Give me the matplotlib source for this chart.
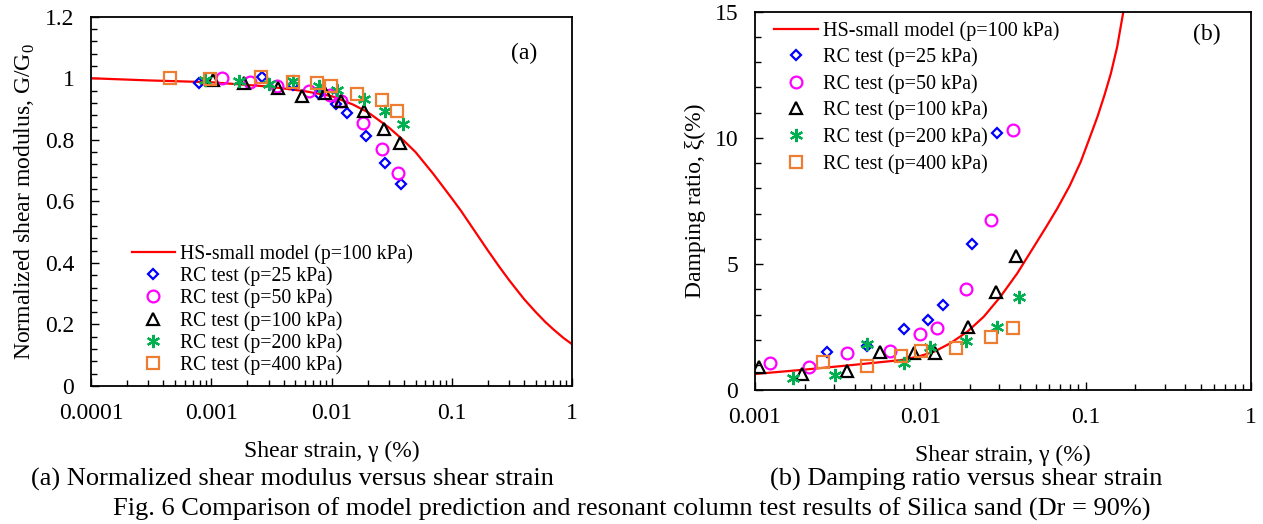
import matplotlib
matplotlib.use("Agg")
import matplotlib.pyplot as plt
from matplotlib.ticker import FuncFormatter, MultipleLocator, LogLocator, NullFormatter

plt.rcParams['font.family'] = ['Liberation Serif', 'DejaVu Serif']
plt.rcParams['mathtext.fontset'] = 'custom'
plt.rcParams['mathtext.rm'] = 'Liberation Serif'

# ---- (a) G/G0 data ----
gg_model_x = [0.0001, 0.0003, 0.001, 0.003, 0.006, 0.01, 0.015, 0.02, 0.03, 0.04,
              0.05, 0.07, 0.1, 0.12, 0.15, 0.2, 0.25, 0.3, 0.4, 0.5, 0.6, 0.7, 0.85, 1.0]
gg_model_y = [1.0, 0.993, 0.987, 0.973, 0.958, 0.942, 0.915, 0.89, 0.84, 0.797,
              0.76, 0.69, 0.61, 0.568, 0.512, 0.44, 0.386, 0.344, 0.282, 0.24, 0.208,
              0.184, 0.156, 0.136]

gg25_x = [0.00079, 0.00263, 0.0048, 0.0078, 0.011, 0.0135, 0.0193, 0.0278, 0.0375]
gg25_y = [0.983, 1.003, 0.978, 0.948, 0.916, 0.887, 0.813, 0.726, 0.658]
gg50_x = [0.00124, 0.0021, 0.0035, 0.0065, 0.0097, 0.0119, 0.0184, 0.0262, 0.0354]
gg50_y = [1.0, 0.987, 0.976, 0.960, 0.945, 0.926, 0.856, 0.769, 0.691]
gg100_x = [0.00103, 0.00187, 0.0036, 0.00564, 0.0088, 0.0121, 0.0186, 0.0273, 0.0371]
gg100_y = [0.995, 0.984, 0.967, 0.941, 0.951, 0.925, 0.894, 0.834, 0.791]
gg200_x = [0.00089, 0.0017, 0.0030, 0.0048, 0.0078, 0.0111, 0.0186, 0.0278, 0.039]
gg200_y = [0.994, 0.992, 0.982, 0.990, 0.974, 0.962, 0.932, 0.894, 0.851]
gg400_x = [0.000454, 0.00098, 0.00259, 0.00478, 0.00752, 0.00995, 0.0162, 0.0261, 0.0352]
gg400_y = [1.0, 0.997, 1.003, 0.989, 0.984, 0.976, 0.95, 0.93, 0.894]

# ---- (b) damping data ----
d_model_x = [0.001, 0.0019, 0.0038, 0.0076, 0.0096, 0.0121, 0.0152, 0.0192, 0.0242,
             0.0305, 0.0386, 0.0486, 0.058, 0.0674, 0.08, 0.0933, 0.105, 0.118,
             0.13, 0.142, 0.155, 0.169]
d_model_y = [0.65, 0.81, 1.0, 1.2, 1.33, 1.53, 1.87, 2.32, 2.92,
             3.71, 4.64, 5.69, 6.5, 7.21, 8.1, 9.05, 9.95, 10.85,
             11.7, 12.55, 13.6, 15.0]

d25_x = [0.00274, 0.00475, 0.0080, 0.0111, 0.0138, 0.0204, 0.0292]
d25_y = [1.53, 1.76, 2.44, 2.80, 3.38, 5.79, 10.18]
d50_x = [0.00124, 0.00213, 0.0036, 0.00658, 0.0100, 0.0126, 0.0188, 0.0268, 0.0362]
d50_y = [1.10, 0.94, 1.47, 1.57, 2.24, 2.46, 4.0, 6.75, 10.3]
d100_x = [0.00105, 0.00192, 0.0036, 0.00573, 0.0091, 0.0123, 0.0194, 0.0285, 0.0377]
d100_y = [0.94, 0.65, 0.77, 1.51, 1.50, 1.49, 2.52, 3.91, 5.33]
d200_x = [0.0017, 0.00305, 0.00475, 0.0080, 0.0115, 0.0190, 0.0292, 0.0394]
d200_y = [0.48, 0.61, 1.83, 1.07, 1.73, 1.97, 2.50, 3.69]
d400_x = [0.00259, 0.00475, 0.00764, 0.0101, 0.0165, 0.0266, 0.0365]
d400_y = [1.14, 0.97, 1.35, 1.56, 1.67, 2.10, 2.48]

labels = ['HS-small model (p=100 kPa)', 'RC test (p=25 kPa)', 'RC test (p=50 kPa)',
          'RC test (p=100 kPa)', 'RC test (p=200 kPa)', 'RC test (p=400 kPa)']

styles = [
    dict(marker='D', ms=5.5, mec='#0000FF'),
    dict(marker='o', ms=8.5, mec='#FF00FF'),
    dict(marker='^', ms=8.5, mec='#000000'),
    dict(marker=(6, 2, 0), ms=9.5, mec='#00B050'),
    dict(marker='s', ms=8.5, mec='#ED7D31'),
]

fig = plt.figure(figsize=(12.63, 5.24), dpi=100)
axa = fig.add_axes([91 / 1263, 138 / 524, 481 / 1263, 369.3 / 524])
axb = fig.add_axes([755 / 1263, 133.6 / 524, 496 / 1263, 378.7 / 524])


def draw(ax, mx, my, series):
    ax.plot(mx, my, color='#FF0000', lw=1.6, label=labels[0])
    for (x, y), st, lab in zip(series, styles, labels[1:]):
        ax.plot(x, y, ls='none', mfc='none', mew=1.6, label=lab, **st)


def style_axis(ax):
    ax.set_xscale('log')
    for s in ax.spines.values():
        s.set_linewidth(1.3)
    ax.tick_params(which='both', direction='in', top=False, right=False,
                   labelsize=17, pad=12, width=1.0)
    ax.tick_params(which='major', length=6)
    ax.tick_params(which='minor', length=4)
    ax.xaxis.set_major_locator(LogLocator(base=10))
    ax.xaxis.set_minor_locator(LogLocator(base=10, subs=range(2, 10)))
    ax.xaxis.set_minor_formatter(NullFormatter())
    ax.xaxis.set_major_formatter(FuncFormatter(lambda v, p: '%g' % v))
    ax.yaxis.set_major_formatter(FuncFormatter(lambda v, p: '%g' % round(v, 2)))


draw(axa, gg_model_x, gg_model_y,
     [(gg25_x, gg25_y), (gg50_x, gg50_y), (gg100_x, gg100_y), (gg200_x, gg200_y), (gg400_x, gg400_y)])
style_axis(axa)
axa.set_xlim(0.0001, 1)
axa.set_ylim(0, 1.2)
axa.yaxis.set_major_locator(MultipleLocator(0.2))
axa.yaxis.set_minor_locator(MultipleLocator(0.04))
axa.set_xlabel('Shear strain, γ (%)', fontsize=17, labelpad=12)
axa.set_ylabel('Normalized shear modulus, G/G$_0$', fontsize=17, labelpad=6)
axa.text(0.9, 0.9, '(a)', transform=axa.transAxes, fontsize=17, ha='center', va='center')
axa.legend(loc='upper left', bbox_to_anchor=(131.7 / 1263, 1 - 244 / 524),
           bbox_transform=fig.transFigure, frameon=False, fontsize=14.2,
           borderpad=0, borderaxespad=0, labelspacing=0.13, handlelength=2.2,
           handletextpad=0.25)

draw(axb, d_model_x, d_model_y,
     [(d25_x, d25_y), (d50_x, d50_y), (d100_x, d100_y), (d200_x, d200_y), (d400_x, d400_y)])
style_axis(axb)
axb.set_xlim(0.001, 1)
axb.set_ylim(0, 15)
axb.yaxis.set_major_locator(MultipleLocator(5))
axb.yaxis.set_minor_locator(MultipleLocator(1))
axb.set_xlabel('Shear strain, γ (%)', fontsize=17, labelpad=12)
axb.set_ylabel('Damping ratio, ξ(%)', fontsize=17, labelpad=6)
axb.text(0.91, 0.94, '(b)', transform=axb.transAxes, fontsize=17, ha='center', va='center')
axb.legend(loc='upper left', bbox_to_anchor=(774 / 1263, 1 - 21 / 524),
           bbox_transform=fig.transFigure, frameon=False, fontsize=14.5,
           borderpad=0, borderaxespad=0, labelspacing=0.34, handlelength=2.2,
           handletextpad=0.25)

fig.text(292.6 / 1263, 1 - 479.6 / 524, '(a) Normalized shear modulus versus shear strain',
         fontsize=19, ha='center', va='center')
fig.text(966.5 / 1263, 1 - 479.6 / 524, '(b) Damping ratio versus shear strain',
         fontsize=19, ha='center', va='center')
fig.text(0.5, 1 - 509.7 / 524,
         'Fig. 6 Comparison of model prediction and resonant column test results of Silica sand (Dr = 90%)',
         fontsize=19, ha='center', va='center')

fig.savefig('out.png', dpi=100)
